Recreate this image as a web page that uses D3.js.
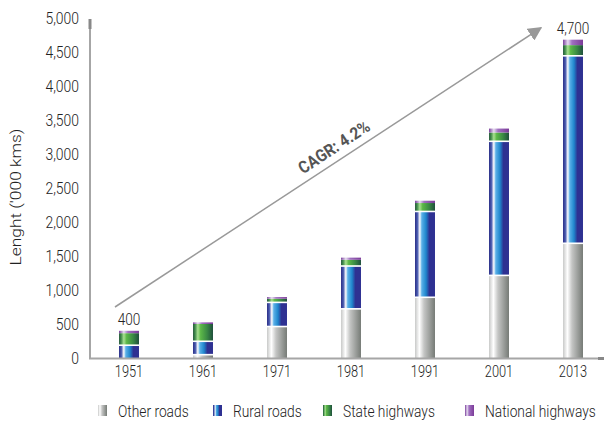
<!DOCTYPE html>
<html><head><meta charset="utf-8">
<script src="https://cdn.jsdelivr.net/npm/d3@7"></script>
<style>
body{margin:0;background:#fff;}
svg{display:block;font-family:Roboto,"Liberation Sans",sans-serif;}
</style></head><body>
<svg id="c" width="604" height="422"></svg>
<script>
const years = ["1951","1961","1971","1981","1991","2001","2013"];
const otherRoads = [0, 46, 460, 720, 890, 1212, 1684];
const ruralRoads = [185, 197, 355, 630, 1262, 1972, 2757];
const stateHighways = [180, 257, 57, 94, 127, 132, 160];
const nationalHighways = [35, 24, 24, 32, 34, 58, 80];
const seriesNames = ["Other roads","Rural roads","State highways","National highways"];
const yTicks = [0,500,1000,1500,2000,2500,3000,3500,4000,4500,5000];
const yTitle = "Lenght ('000 kms)";
const totalLabels = [{year:"1951", text:"400"},{year:"2013", text:"4,700"}];
const cagrText = "CAGR: 4.2%";
const arrowFrom = {year:"1951", value:750};
const arrowTo = {year:"2013", value:4855};

const svg = d3.select("#c");
const x = d3.scaleBand().domain(years).range([92,610]).paddingInner(0.73).paddingOuter(0.365);
const y = d3.scaleLinear().domain([0,5000]).range([358,18]);
const TXT = "#222";
const FONT = "Roboto, 'Liberation Sans', sans-serif";

const gradients = [
  {id:"gOther", stops:[[0,"#c8c9c8"],[0.22,"#ffffff"],[0.45,"#c4c5c4"],[1,"#767b76"]]},
  {id:"gRural", stops:[[0,"#2a2d86"],[0.12,"#4a5cb0"],[0.24,"#ffffff"],[0.34,"#5ab0e8"],[0.55,"#1f86cc"],[0.72,"#2e3192"],[1,"#2e3192"]]},
  {id:"gState", stops:[[0,"#2a5a40"],[0.1,"#3e8a48"],[0.24,"#a8e090"],[0.38,"#5cb848"],[0.7,"#3a8a44"],[1,"#1f4f3c"]]},
  {id:"gNat", stops:[[0,"#7a3f9c"],[0.24,"#e6dcf0"],[0.45,"#a070c0"],[1,"#7b3a98"]]}
];
const defs = svg.append("defs");
gradients.forEach(g=>{
  const lg = defs.append("linearGradient").attr("id",g.id).attr("x1","0").attr("x2","1").attr("y1","0").attr("y2","0");
  g.stops.forEach(s=>lg.append("stop").attr("offset",s[0]).attr("stop-color",s[1]));
});
const fills = ["url(#gOther)","url(#gRural)","url(#gState)","url(#gNat)"];
defs.append("marker").attr("id","arr").attr("viewBox","0 0 10 10").attr("refX",9).attr("refY",5)
  .attr("markerWidth",14).attr("markerHeight",14).attr("markerUnits","userSpaceOnUse").attr("orient","auto")
  .append("path").attr("d","M0,0L10,5L0,10Z").attr("fill","#999");

const table = years.map((yr,i)=>({year:yr, "Other roads":otherRoads[i], "Rural roads":ruralRoads[i], "State highways":stateHighways[i], "National highways":nationalHighways[i]}));
const stack = d3.stack().keys(seriesNames)(table);

const gBars = svg.append("g");
stack.forEach((layer,k)=>{
  gBars.selectAll(null).data(layer).join("rect")
    .attr("x",d=>x(d.data.year))
    .attr("width",x.bandwidth())
    .attr("y",d=>y(d[1]))
    .attr("height",d=>Math.max(0,y(d[0])-y(d[1])))
    .attr("fill",fills[k]);
});
[0,1].forEach(k=>{
  gBars.selectAll(null).data(stack[k].filter(d=>d[1]>d[0])).join("rect")
    .attr("x",d=>x(d.data.year))
    .attr("width",x.bandwidth())
    .attr("y",d=>y(d[1])-1)
    .attr("height",1.6)
    .attr("fill","#fff");
});

function ctext(parent, px, py, str, size, sx, anchor){
  return parent.append("text").attr("transform",`translate(${px},${py}) scale(${sx},1)`)
    .attr("text-anchor",anchor||"start").attr("font-size",size).attr("fill",TXT)
    .attr("font-weight",300).style("font-family",FONT).text(str);
}

// axes
const yS = 0.87, xS = 0.8;
const yAxis = d3.axisLeft(y).tickValues(yTicks).tickSize(0).tickPadding(11).tickFormat(d3.format(","));
const gy = svg.append("g").attr("transform","translate(90,0)").call(yAxis);
gy.select(".domain").remove();
gy.selectAll("text").attr("font-size",16).attr("font-weight",300).attr("fill",TXT).style("font-family",FONT)
  .attr("x",-11/yS).attr("transform",`scale(${yS},1)`);

const xAxis = d3.axisBottom(x).tickSize(0).tickPadding(8);
const gx = svg.append("g").attr("transform","translate(0,358)").call(xAxis);
gx.select(".domain").remove();
gx.selectAll("text").attr("font-size",16).attr("font-weight",300).attr("fill",TXT).style("font-family",FONT)
  .attr("transform",`scale(${xS},1)`);

svg.append("line").attr("x1",90).attr("x2",90).attr("y1",19).attr("y2",359).attr("stroke","#a6a6a6").attr("stroke-width",2);
svg.append("line").attr("x1",90).attr("x2",90).attr("y1",19).attr("y2",29).attr("stroke","#888").attr("stroke-width",3);
svg.append("line").attr("x1",89).attr("x2",604).attr("y1",358.5).attr("y2",358.5).attr("stroke","#a6a6a6").attr("stroke-width",2);
svg.append("line").attr("x1",598).attr("x2",604).attr("y1",358.5).attr("y2",358.5).attr("stroke","#888").attr("stroke-width",3);

svg.append("text").attr("transform","translate(21,197) rotate(-90)").attr("text-anchor","middle")
  .attr("font-size",15).attr("font-weight",300).attr("fill",TXT).style("font-family",FONT)
  .attr("textLength",137).attr("lengthAdjust","spacingAndGlyphs").text(yTitle);

totalLabels.forEach(t=>{
  const i = years.indexOf(t.year);
  const tot = otherRoads[i]+ruralRoads[i]+stateHighways[i]+nationalHighways[i];
  ctext(svg, x(t.year)+x.bandwidth()/2, y(tot)-6, t.text, 16, 0.85, "middle");
});

const ax1 = x(arrowFrom.year)+x.bandwidth()/2-14, ay1 = y(arrowFrom.value);
const ax2 = x(arrowTo.year)+x.bandwidth()/2-32, ay2 = y(arrowTo.value);
svg.append("line").attr("x1",ax1).attr("y1",ay1).attr("x2",ax2).attr("y2",ay2)
  .attr("stroke","#999").attr("stroke-width",1.5).attr("marker-end","url(#arr)");
const ang = Math.atan2(ay2-ay1, ax2-ax1)*180/Math.PI;
svg.append("text").attr("transform",`translate(334,147) rotate(${ang}) scale(0.9,1)`).attr("text-anchor","middle")
  .attr("dy","0.35em").attr("font-size",17).attr("font-weight","bold").attr("fill","#555").style("font-family",FONT).text(cagrText);

const legX = [98, 213, 323, 465];
const lg = svg.append("g");
seriesNames.forEach((n,i)=>{
  lg.append("rect").attr("x",legX[i]).attr("y",405).attr("width",9).attr("height",11).attr("fill",fills[i]);
  ctext(lg, legX[i]+20, 416.5, n, 17, 0.81, "start");
});
</script>
</body></html>
